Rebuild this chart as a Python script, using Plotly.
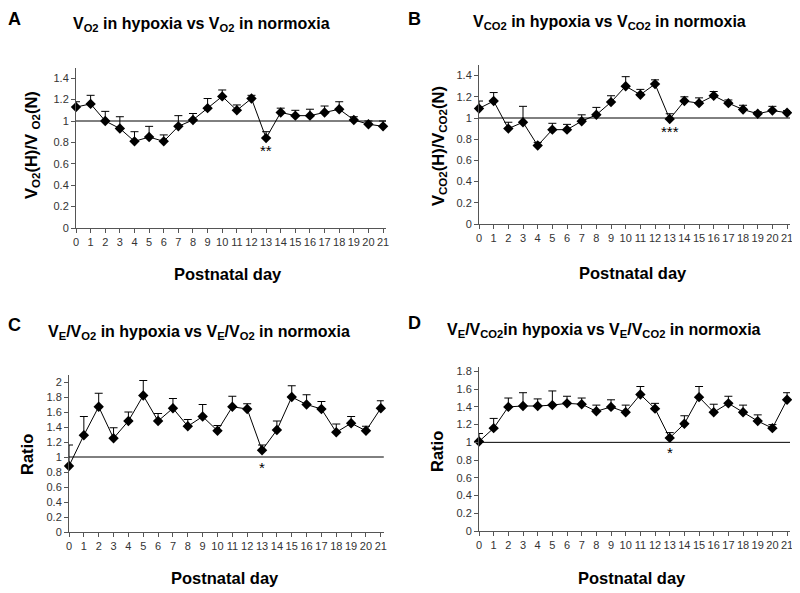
import plotly.graph_objects as go

days = list(range(22))

# A: VO2 hypoxia / normoxia
vo2_mean = [1.13, 1.16, 1.00, 0.93, 0.81, 0.85, 0.81, 0.95, 1.01, 1.12, 1.23, 1.10, 1.21, 0.84,
            1.08, 1.05, 1.05, 1.08, 1.11, 1.01, 0.97, 0.95]
vo2_top = [1.18, 1.24, 1.09, 1.04, 0.90, 0.95, 0.87, 1.05, 1.07, 1.21, 1.29, 1.15, 1.24, 0.90,
           1.12, 1.10, 1.11, 1.14, 1.18, 1.04, 1.00, 1.00]

# B: VCO2 hypoxia / normoxia
vco2_mean = [1.09, 1.16, 0.90, 0.96, 0.74, 0.89, 0.89, 0.97, 1.03, 1.15, 1.30, 1.22, 1.32, 0.99,
             1.16, 1.14, 1.21, 1.14, 1.08, 1.04, 1.07, 1.05]
vco2_top = [1.16, 1.24, 0.96, 1.11, 0.77, 0.95, 0.94, 1.03, 1.10, 1.21, 1.39, 1.27, 1.36, 1.04,
            1.20, 1.19, 1.25, 1.17, 1.12, 1.06, 1.11, 1.07]

# C: VE/VO2 ratio
ve_vo2_mean = [0.88, 1.29, 1.67, 1.25, 1.48, 1.82, 1.48, 1.65, 1.41, 1.54, 1.35, 1.67, 1.64, 1.09,
               1.36, 1.80, 1.70, 1.64, 1.33, 1.45, 1.35, 1.65]
ve_vo2_top = [1.16, 1.54, 1.85, 1.39, 1.60, 2.02, 1.58, 1.78, 1.50, 1.70, 1.42, 1.81, 1.71, 1.16,
              1.48, 1.95, 1.83, 1.74, 1.44, 1.54, 1.41, 1.75]

# D: VE/VCO2 ratio
ve_vco2_mean = [1.01, 1.16, 1.40, 1.41, 1.41, 1.42, 1.44, 1.43, 1.35, 1.40, 1.34, 1.54, 1.38, 1.05,
                1.21, 1.51, 1.34, 1.44, 1.34, 1.24, 1.16, 1.48]
ve_vco2_top = [1.10, 1.27, 1.50, 1.56, 1.49, 1.58, 1.52, 1.50, 1.42, 1.48, 1.42, 1.63, 1.44, 1.11,
               1.30, 1.63, 1.43, 1.52, 1.42, 1.31, 1.20, 1.56]

# page body has an 8px margin, so the figure is drawn 8px in from the window edge
OFF = 8
W, H = 800 - OFF, 593 - OFF
font = "Liberation Sans, Arial, sans-serif"


def px_dom(x0, x1, top, bottom):
    return ([(x0 - OFF) / W, (x1 - OFF) / W],
            [1 - (bottom - OFF) / H, 1 - (top - OFF) / H])


panels = [
    dict(letter="A", mean=vo2_mean, top=vo2_top, stars="**", star_y=0.72,
         title="V<sub>O2</sub> in hypoxia vs V<sub>O2</sub> in normoxia",
         ytitle="V<sub>O2</sub>(H)/V <sub>O2</sub>(N)", yrange=[0, 1.5], ymax=1.4,
         box=(76, 386, 67.5, 228),
         letter_at=(14.5, 18.5), title_at=(201, 24), xlab_at=(228, 274), ylab_at=(32, 145)),
    dict(letter="B", mean=vco2_mean, top=vco2_top, stars="***", star_y=0.87,
         title="V<sub>CO2</sub> in hypoxia vs V<sub>CO2</sub> in normoxia",
         ytitle="V<sub>CO2</sub>(H)/V<sub>CO2</sub>(N)", yrange=[0, 1.5], ymax=1.4,
         box=(479, 790, 65, 224),
         letter_at=(415, 18.5), title_at=(609, 22), xlab_at=(633, 273), ylab_at=(439, 146)),
    dict(letter="C", mean=ve_vo2_mean, top=ve_vo2_top, stars="*", star_y=0.86,
         title="V<sub>E</sub>/V<sub>O2</sub> in hypoxia vs V<sub>E</sub>/V<sub>O2</sub> in normoxia",
         ytitle="Ratio", yrange=[0, 2.1], ymax=2.0,
         box=(69, 383.8, 374.5, 532),
         letter_at=(14, 325), title_at=(199, 332), xlab_at=(225, 578), ylab_at=(27, 455)),
    dict(letter="D", mean=ve_vco2_mean, top=ve_vco2_top, stars="*", star_y=0.89,
         title="V<sub>E</sub>/V<sub>CO2</sub>in hypoxia vs V<sub>E</sub>/V<sub>CO2</sub> in normoxia",
         ytitle="Ratio", yrange=[0, 1.85], ymax=1.8,
         box=(479, 790, 367, 531),
         letter_at=(414.5, 323), title_at=(604, 330), xlab_at=(632, 578), ylab_at=(437, 451)),
]


def paper_text(pos, text, size, angle=0):
    x, y = pos
    fig.add_annotation(x=(x - OFF) / W, y=1 - (y - OFF) / H, xref="paper", yref="paper", text=text,
                       xanchor="center", yanchor="middle", showarrow=False, textangle=angle,
                       font=dict(size=size, color="black", family=font))


fig = go.Figure()
for i, p in enumerate(panels):
    n = "" if i == 0 else str(i + 1)
    xa, ya = "x" + n, "y" + n
    xdom, ydom = px_dom(*p["box"])
    err = [round(t - m, 3) for t, m in zip(p["top"], p["mean"])]
    fig.add_trace(go.Scatter(
        x=days, y=p["mean"], xaxis=xa, yaxis=ya, mode="lines+markers",
        line=dict(color="black", width=1),
        marker=dict(symbol="diamond", size=8, color="black"),
        error_y=dict(type="data", array=err, arrayminus=[0] * len(err), symmetric=False,
                     color="black", thickness=1, width=4),
        showlegend=False, cliponaxis=False))
    fig.add_shape(type="line", xref=xa + " domain", yref=ya, x0=0, x1=1, y0=1, y1=1,
                  line=dict(color="black", width=1))
    fig.add_annotation(x=13, y=p["star_y"], xref=xa, yref=ya, text=p["stars"], showarrow=False,
                       xanchor="center", yanchor="middle",
                       font=dict(size=15, color="black", family=font))
    ticks = [round(k * 0.2, 1) for k in range(int(round(p["ymax"] / 0.2)) + 1)]
    fig.update_layout(**{
        "xaxis" + n: dict(domain=xdom, anchor=ya, range=[0, 21.2], tickvals=days,
                          showline=True, linecolor="#555", ticks="outside", ticklen=4,
                          tickcolor="#555", showgrid=False, zeroline=False, automargin=False,
                          tickfont=dict(size=11, color="#333", family=font)),
        "yaxis" + n: dict(domain=ydom, anchor=xa, range=p["yrange"], tickvals=ticks,
                          ticktext=[f"{t:g}" for t in ticks],
                          showline=True, linecolor="#555", ticks="outside", ticklen=4,
                          tickcolor="#555", showgrid=False, zeroline=False, automargin=False,
                          tickfont=dict(size=11, color="#333", family=font)),
    })
    paper_text(p["letter_at"], "<b>%s</b>" % p["letter"], 18)
    paper_text(p["title_at"], "<b>%s</b>" % p["title"], 16)
    paper_text(p["xlab_at"], "<b>Postnatal day</b>", 16.5)
    paper_text(p["ylab_at"], "<b>%s</b>" % p["ytitle"], 16.5, angle=-90)

fig.update_layout(width=W, height=H, margin=dict(l=0, r=0, t=0, b=0),
                  plot_bgcolor="white", paper_bgcolor="white")
fig.write_html("out.html")
